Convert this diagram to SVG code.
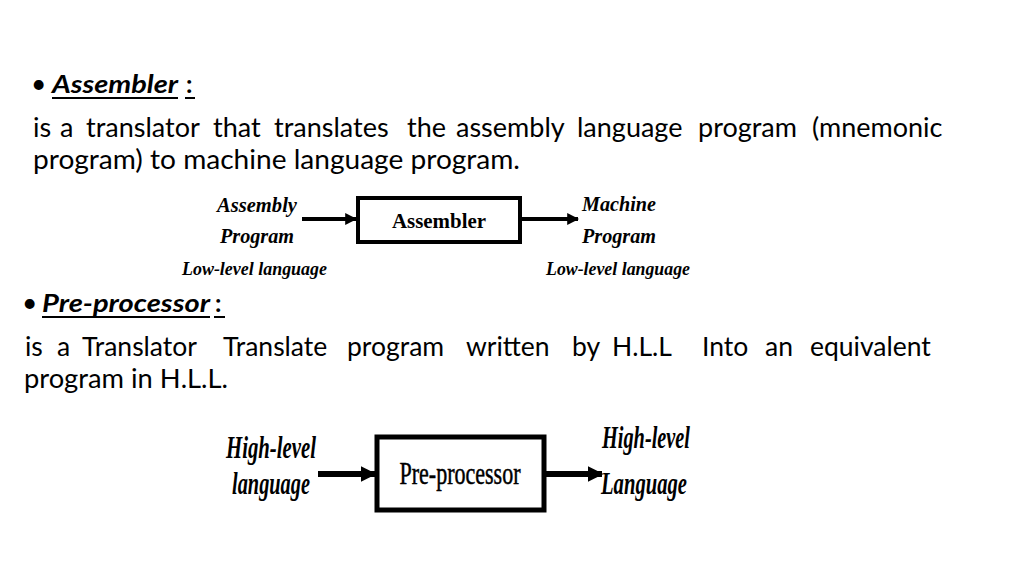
<svg xmlns="http://www.w3.org/2000/svg" width="1024" height="576" viewBox="0 0 1024 576">
<style>
.body{font-family:Lato,"Open Sans",sans-serif;font-size:26.5px;fill:#000}
.l1{font-size:27px}
.head{font-family:Lato,"Open Sans",sans-serif;font-size:25px;font-weight:bold;font-style:italic;fill:#000}
.colon{font-family:Lato,"Open Sans",sans-serif;font-size:25px;font-weight:bold;fill:#000}
.lbl{font-family:"Liberation Serif",serif;font-style:italic;font-weight:bold;fill:#000}
.box{fill:#fff;stroke:#000}
.ul{stroke:#000;stroke-width:2}
.conn{stroke:#000;fill:none}
</style>
<defs>
<marker id="ah" viewBox="0 0 10 10" refX="9" refY="5" markerWidth="12" markerHeight="12" orient="auto" markerUnits="userSpaceOnUse">
<path d="M0,0 L10,5 L0,10 z" fill="#000"/>
</marker>
<marker id="ah2" viewBox="0 0 10 10" refX="9" refY="5" markerWidth="16" markerHeight="16" orient="auto" markerUnits="userSpaceOnUse">
<path d="M0,0 L10,5 L0,10 z" fill="#000"/>
</marker>
</defs>
<rect width="1024" height="576" fill="#fff"/>

<g id="assembler-text">
<text class="body" x="31" y="93" font-size="28">•</text>
<text class="head" x="52" y="93" textLength="126" lengthAdjust="spacingAndGlyphs">Assembler</text>
<line class="ul" x1="52" y1="98" x2="178" y2="98"/>
<text class="colon" x="186" y="93">:</text>
<line class="ul" x1="185" y1="98" x2="195" y2="98"/>
<text class="body l1" y="137"><tspan x="33">is</tspan><tspan x="60">a</tspan><tspan x="86">translator</tspan><tspan x="213">that</tspan><tspan x="274">translates</tspan><tspan x="407">the</tspan><tspan x="456">assembly</tspan><tspan x="577">language</tspan><tspan x="698">program</tspan><tspan x="812">(mnemonic</tspan></text>
<text class="body" x="33" y="169" textLength="487" lengthAdjust="spacingAndGlyphs">program) to machine language program.</text>
</g>

<g id="preprocessor-text">
<text class="body" x="22" y="312" font-size="28">•</text>
<text class="head" x="42" y="312" textLength="168" lengthAdjust="spacingAndGlyphs">Pre-processor</text>
<line class="ul" x1="42" y1="317" x2="210" y2="317"/>
<text class="colon" x="215" y="312">:</text>
<line class="ul" x1="214" y1="317" x2="225" y2="317"/>
<text class="body" y="356"><tspan x="25">is</tspan><tspan x="57">a</tspan><tspan x="82">Translator</tspan><tspan x="223">Translate</tspan><tspan x="347">program</tspan><tspan x="466">written</tspan><tspan x="572">by</tspan><tspan x="612">H.L.L</tspan><tspan x="702">Into</tspan><tspan x="765">an</tspan><tspan x="810">equivalent</tspan></text>
<text class="body" x="24" y="388" textLength="204" lengthAdjust="spacingAndGlyphs">program in H.L.L.</text>
</g>

<g id="assembly-program">
<text class="lbl" x="217" y="212" font-size="21" textLength="80" lengthAdjust="spacingAndGlyphs">Assembly</text>
<text class="lbl" x="220" y="243" font-size="21" textLength="74" lengthAdjust="spacingAndGlyphs">Program</text>
<text class="lbl" x="182" y="275" font-size="19" font-weight="normal" textLength="145" lengthAdjust="spacingAndGlyphs">Low-level language</text>
</g>

<g id="assembler">
<rect class="box" x="358" y="198" width="162" height="44" stroke-width="4"/>
<text x="439" y="228" font-family="Liberation Serif,serif" font-weight="bold" font-size="22" text-anchor="middle" textLength="94" lengthAdjust="spacingAndGlyphs">Assembler</text>
</g>

<g id="machine-program">
<text class="lbl" x="582" y="211" font-size="21" textLength="74" lengthAdjust="spacingAndGlyphs">Machine</text>
<text class="lbl" x="582" y="243" font-size="21" textLength="74" lengthAdjust="spacingAndGlyphs">Program</text>
<text class="lbl" x="546" y="275" font-size="19" font-weight="normal" textLength="144" lengthAdjust="spacingAndGlyphs">Low-level language</text>
</g>

<g id="high-level-in">
<text class="lbl" x="226" y="458" font-size="31" textLength="90" lengthAdjust="spacingAndGlyphs">High-level</text>
<text class="lbl" x="232" y="494" font-size="31" textLength="78" lengthAdjust="spacingAndGlyphs">language</text>
</g>

<g id="preprocessor">
<rect class="box" x="377" y="437" width="167" height="73" stroke-width="5"/>
<text x="460" y="484" font-family="Liberation Serif,serif" font-size="31" text-anchor="middle" textLength="121" lengthAdjust="spacingAndGlyphs" stroke="#000" stroke-width="0.5">Pre-processor</text>
</g>

<g id="high-level-out">
<text class="lbl" x="602" y="448" font-size="31" textLength="88" lengthAdjust="spacingAndGlyphs">High-level</text>
<text class="lbl" x="601" y="494" font-size="31" textLength="86" lengthAdjust="spacingAndGlyphs">Language</text>
</g>

<g id="connectors">
<line class="conn" x1="302" y1="219" x2="356" y2="219" stroke-width="4" marker-end="url(#ah)"/>
<line class="conn" x1="522" y1="219" x2="578" y2="219" stroke-width="4" marker-end="url(#ah)"/>
<line class="conn" x1="318" y1="474" x2="375" y2="474" stroke-width="6" marker-end="url(#ah2)"/>
<line class="conn" x1="546" y1="474" x2="602" y2="474" stroke-width="6" marker-end="url(#ah2)"/>
</g>
</svg>
